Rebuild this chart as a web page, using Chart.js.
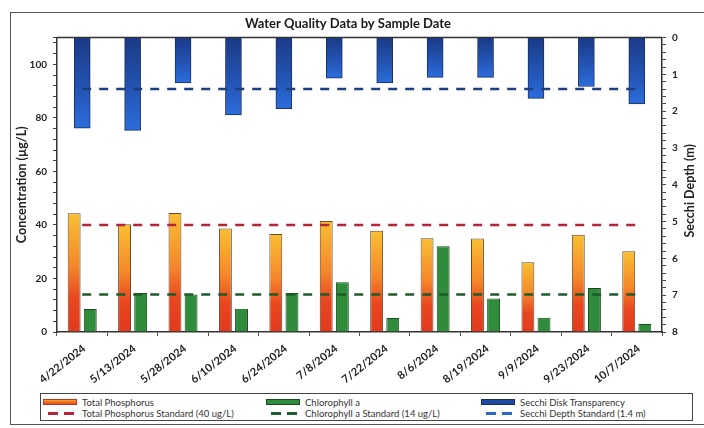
<!DOCTYPE html>
<html>
<head>
<meta charset="utf-8">
<script src="https://cdn.jsdelivr.net/npm/chart.js@4.4.1/dist/chart.umd.min.js"></script>
<style>
  html, body { margin: 0; padding: 0; background: #fff; }
  body { width: 704px; height: 428px; position: relative; overflow: hidden; font-family: Lato, "Open Sans", sans-serif; }
  #frame { position: absolute; left: 10px; top: 12px; width: 720px; height: 413px; border: 1.5px solid #555; box-sizing: border-box; }
  #wrap { position: absolute; left: 0; top: 0; width: 704px; height: 428px; }
  #legend { position: absolute; left: 40px; top: 393px; width: 653px; height: 28px; border: 1.5px solid #444; box-sizing: border-box; background: #fff; }
  .item { position: absolute; display: flex; align-items: center; height: 10px; font-size: 9.5px; color: #333; white-space: nowrap; }
  .sw { width: 34px; height: 6px; margin-right: 5px; box-sizing: border-box; position: relative; }
  .dash { position: absolute; top: 1.5px; width: 10px; height: 3px; }
</style>
</head>
<body>
<div id="frame"></div>
<div id="wrap"><canvas id="chart" width="704" height="428"></canvas></div>
<div id="legend"></div>
<script>
// sample dates
const dates = ['4/22/2024', '5/13/2024', '5/28/2024', '6/10/2024', '6/24/2024', '7/8/2024',
               '7/22/2024', '8/6/2024', '8/19/2024', '9/9/2024', '9/23/2024', '10/7/2024'];

// concentrations (ug/L)
const totalPhosphorus = [44.4, 40.3, 44.5, 38.7, 36.6, 41.5, 37.8, 35.0, 34.9, 26.1, 36.3, 30.2];
const chlorophyllA    = [8.6, 14.6, 14.0, 8.7, 14.6, 18.6, 5.2, 32.0, 12.5, 5.3, 16.4, 3.0];
// secchi depth (m)
const secchiDepth     = [2.46, 2.52, 1.23, 2.10, 1.93, 1.10, 1.23, 1.08, 1.08, 1.65, 1.33, 1.80];

// standards
const tpStandard     = [40, 40, 40, 40, 40, 40, 40, 40, 40, 40, 40, 40];
const chlStandard    = [14, 14, 14, 14, 14, 14, 14, 14, 14, 14, 14, 14];
const secchiStandard = [1.4, 1.4, 1.4, 1.4, 1.4, 1.4, 1.4, 1.4, 1.4, 1.4, 1.4, 1.4];

const leftTicks = [0, 20, 40, 60, 80, 100];
const rightTicks = [0, 1, 2, 3, 4, 5, 6, 7, 8];

// vertical gradient for each bar, from its value down/up to the base
const barGradient = (axisId, stops, fallback) => (c) => {
    const chart = c.chart;
    if (!chart.chartArea || c.raw == null) return fallback;
    const scale = chart.scales[axisId];
    const top = Math.min(scale.getPixelForValue(c.raw), scale.getPixelForValue(0));
    const bot = Math.max(scale.getPixelForValue(c.raw), scale.getPixelForValue(0));
    const g = chart.ctx.createLinearGradient(0, top, 0, bot);
    stops.forEach(s => g.addColorStop(s[0], s[1]));
    return g;
};

const tpFill = barGradient('y', [[0, '#f9bf32'], [0.45, '#f5872a'], [0.72, '#e9461f'], [1, '#e23a1d']], '#f08a24');
const secchiFill = barGradient('y2', [[0, '#1a3a86'], [0.6, '#2456b8'], [1, '#2c6ddc']], '#2456b8');

// top border of plot + right axis title (reads bottom to top)
const extras = {
    id: 'extras',
    afterDraw(chart) {
        const { ctx, chartArea } = chart;
        ctx.save();
        ctx.strokeStyle = '#333';
        ctx.lineWidth = 1.5;
        ctx.beginPath();
        ctx.moveTo(chartArea.left, chartArea.top);
        ctx.lineTo(chartArea.right, chartArea.top);
        ctx.stroke();
        ctx.translate(690, (chartArea.top + chartArea.bottom) / 2 + 6);
        ctx.rotate(-Math.PI / 2);
        ctx.font = 'bold 12.5px Lato';
        ctx.fillStyle = '#222';
        ctx.textAlign = 'center';
        ctx.textBaseline = 'middle';
        ctx.fillText('Secchi Depth (m)', 0, 0);
        ctx.restore();
    }
};

const tickFont = { family: 'Lato', size: 10, weight: 'bold' };

new Chart(document.getElementById('chart'), {
    type: 'bar',
    data: {
        labels: dates,
        datasets: [
            { type: 'line', label: 'Total Phosphorus Standard (40 ug/L)', data: tpStandard, yAxisID: 'y',
              borderColor: '#b3263a', borderWidth: 2.5, borderDash: [9, 8], pointRadius: 0, order: 0 },
            { type: 'line', label: 'Chlorophyll a Standard (14 ug/L)', data: chlStandard, yAxisID: 'y',
              borderColor: '#1f5a2c', borderWidth: 2.5, borderDash: [9, 8], pointRadius: 0, order: 0 },
            { type: 'line', label: 'Secchi Depth Standard (1.4 m)', data: secchiStandard, yAxisID: 'y2',
              borderColor: '#1e3f7e', borderWidth: 2.5, borderDash: [9, 8], pointRadius: 0, order: 0 },
            { label: 'Total Phosphorus', data: totalPhosphorus, yAxisID: 'y', backgroundColor: tpFill,
              borderColor: '#6a4a30', borderWidth: 1, categoryPercentage: 0.64, barPercentage: 0.8, order: 1 },
            { label: 'Chlorophyll a', data: chlorophyllA, yAxisID: 'y', backgroundColor: '#2e8c3a',
              borderColor: '#1c4a22', borderWidth: 1, categoryPercentage: 0.64, barPercentage: 0.8, order: 1 },
            { label: 'Secchi Disk Transparency', data: secchiDepth, yAxisID: 'y2', backgroundColor: secchiFill,
              borderColor: '#1a2f5c', borderWidth: 1, grouped: false, barThickness: 16, order: 1 }
        ]
    },
    options: {
        responsive: false,
        animation: false,
        layout: { padding: { left: 10, right: 18, top: 12, bottom: 43 } },
        plugins: {
            legend: { display: false },
            tooltip: { enabled: false },
            title: {
                display: true,
                text: 'Water Quality Data by Sample Date',
                color: '#1a1a1a',
                font: { family: 'Lato', size: 13, weight: 'bold' },
                padding: { top: 4, bottom: 6 }
            }
        },
        scales: {
            x: {
                grid: { display: true, drawOnChartArea: false, tickLength: 4, color: '#555' },
                border: { color: '#333', width: 1.5 },
                ticks: { color: '#222', font: { family: 'Lato', size: 11, weight: 'bold' },
                         minRotation: 38, maxRotation: 38, autoSkip: false, padding: 6, labelOffset: 2 },
                afterFit: (s) => { s.height = 53; }
            },
            y: {
                position: 'left',
                min: 0, max: 110, bounds: 'data',
                grid: { display: true, drawOnChartArea: false, tickLength: 4, color: '#444' },
                border: { color: '#333', width: 1.5 },
                title: { display: true, text: 'Concentration (µg/L)', color: '#222',
                         font: { family: 'Lato', size: 12.5, weight: 'bold' }, padding: 4 },
                ticks: { stepSize: 4, includeBounds: false, autoSkip: false, color: '#222', font: tickFont, padding: 6,
                         callback: (v) => leftTicks.includes(v) ? v : '' },
                afterFit: (s) => { s.width = 47; }
            },
            y2: {
                position: 'right',
                reverse: true,
                min: 0, max: 8, bounds: 'data',
                grid: { display: true, drawOnChartArea: false, tickLength: 4, color: '#444' },
                border: { color: '#333', width: 1.5 },
                ticks: { stepSize: 0.2, includeBounds: false, autoSkip: false, color: '#222', font: tickFont, padding: 6,
                         callback: (v) => rightTicks.some(t => Math.abs(t - v) < 1e-6) ? Math.round(v) : '' },
                afterFit: (s) => { s.width = 24; }
            }
        }
    },
    plugins: [extras]
});

// legend: three columns, two rows
const legendItems = [
    { text: 'Total Phosphorus', x: 2, y: 3, kind: 'bar', fill: 'linear-gradient(#f5a12a, #e9461f)', edge: '#c0381c' },
    { text: 'Chlorophyll a', x: 225, y: 3, kind: 'bar', fill: '#2e8c3a', edge: '#1c4a22' },
    { text: 'Secchi Disk Transparency', x: 440, y: 3, kind: 'bar', fill: '#1f4aa0', edge: '#1a2f5c' },
    { text: 'Total Phosphorus Standard (40 ug/L)', x: 2, y: 14, kind: 'dash', fill: '#b3263a' },
    { text: 'Chlorophyll a Standard (14 ug/L)', x: 225, y: 14, kind: 'dash', fill: '#1f5a2c' },
    { text: 'Secchi Depth Standard (1.4 m)', x: 440, y: 14, kind: 'dash', fill: '#2a66c8' }
];

const legend = document.getElementById('legend');
legendItems.forEach(it => {
    const div = document.createElement('div');
    div.className = 'item';
    div.style.left = it.x + 'px';
    div.style.top = it.y + 'px';
    const sw = document.createElement('span');
    sw.className = 'sw';
    if (it.kind === 'bar') {
        sw.style.background = it.fill;
        sw.style.border = '1px solid ' + it.edge;
    } else {
        [5, 21].forEach(left => {
            const d = document.createElement('span');
            d.className = 'dash';
            d.style.left = left + 'px';
            d.style.background = it.fill;
            sw.appendChild(d);
        });
    }
    div.appendChild(sw);
    const label = document.createElement('span');
    label.textContent = it.text;
    div.appendChild(label);
    legend.appendChild(div);
});
</script>
</body>
</html>
